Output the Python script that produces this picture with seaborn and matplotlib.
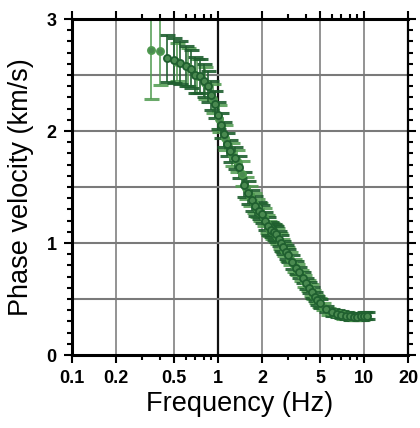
import numpy as np
import pandas as pd
import matplotlib
matplotlib.use("Agg")
import matplotlib.pyplot as plt
import seaborn as sns
from matplotlib.ticker import FixedLocator, NullFormatter, FixedFormatter

# ---- data ----
freq_dark = [0.45, 0.50, 0.55, 0.60, 0.65, 0.70, 0.75, 0.80, 0.85, 0.90, 0.95, 1.00,
             1.05, 1.10, 1.15, 1.20, 1.30, 1.40, 1.50, 1.60, 1.70, 1.80, 1.90, 2.00,
             2.10, 2.20, 2.30, 2.40, 2.50, 2.60, 2.70, 2.80, 2.90, 3.00, 3.20, 3.40,
             3.60, 3.80, 4.00, 4.20, 4.40, 4.60, 4.80, 5.00, 5.50, 6.00, 6.50, 7.00,
             7.50, 8.00, 8.50, 9.00, 9.50, 10.0, 10.5]
vel_dark = [2.65, 2.63, 2.61, 2.58, 2.55, 2.50, 2.49, 2.45, 2.40, 2.32, 2.24, 2.14,
            2.05, 1.97, 1.88, 1.82, 1.76, 1.68, 1.52, 1.45, 1.38, 1.33, 1.29, 1.26,
            1.20, 1.15, 1.12, 1.10, 1.08, 1.04, 1.00, 0.96, 0.92, 0.89, 0.83, 0.78,
            0.74, 0.69, 0.64, 0.60, 0.56, 0.52, 0.49, 0.46, 0.41, 0.38, 0.37, 0.36,
            0.35, 0.345, 0.34, 0.34, 0.345, 0.35, 0.35]
err_dark = [0.21, 0.20, 0.19, 0.18, 0.17, 0.16, 0.15, 0.15, 0.14, 0.13, 0.12, 0.12,
            0.11, 0.11, 0.10, 0.10, 0.10, 0.10, 0.11, 0.10, 0.09, 0.09, 0.08, 0.08,
            0.08, 0.08, 0.07, 0.07, 0.07, 0.07, 0.07, 0.06, 0.06, 0.06, 0.06, 0.06,
            0.05, 0.05, 0.05, 0.05, 0.05, 0.04, 0.04, 0.04, 0.03, 0.03, 0.03, 0.03,
            0.03, 0.03, 0.03, 0.03, 0.03, 0.03, 0.03]

freq_light = [0.35, 0.40, 0.52, 0.62, 0.72, 0.82, 0.92, 1.02, 1.12, 1.25, 1.35, 1.45,
              1.55, 1.65, 1.75, 1.85, 1.95, 2.05, 2.15, 2.25, 2.35, 2.45, 2.55, 2.65,
              2.75, 2.85, 2.95, 3.10, 3.30, 3.50, 3.70, 3.90, 4.10, 4.30, 4.50, 4.70,
              4.90, 5.20, 5.70, 6.20, 6.70, 7.20, 7.70, 8.20, 8.70, 9.20, 9.70, 10.2]
vel_light = [2.72, 2.71, 2.62, 2.57, 2.49, 2.43, 2.29, 2.11, 1.94, 1.79, 1.73, 1.62,
             1.49, 1.42, 1.36, 1.31, 1.28, 1.23, 1.17, 1.13, 1.11, 1.09, 1.06, 1.02,
             0.98, 0.94, 0.90, 0.86, 0.80, 0.76, 0.71, 0.66, 0.62, 0.58, 0.54, 0.50,
             0.47, 0.43, 0.39, 0.375, 0.365, 0.355, 0.35, 0.34, 0.34, 0.34, 0.345, 0.35]
err_light = [0.43, 0.30, 0.17, 0.17, 0.15, 0.14, 0.13, 0.12, 0.11, 0.10, 0.10, 0.11,
             0.10, 0.09, 0.09, 0.08, 0.08, 0.08, 0.08, 0.07, 0.07, 0.07, 0.07, 0.07,
             0.06, 0.06, 0.06, 0.06, 0.06, 0.05, 0.05, 0.05, 0.05, 0.05, 0.04, 0.04,
             0.04, 0.03, 0.03, 0.03, 0.03, 0.03, 0.03, 0.03, 0.03, 0.03, 0.03, 0.03]

x_ticks = [0.1, 0.2, 0.5, 1, 2, 5, 10, 20]
x_tick_labels = ["0.1", "0.2", "0.5", "1", "2", "5", "10", "20"]
y_ticks = [0, 1, 2, 3]
y_tick_labels = ["0", "1", "2", "3"]

dark = "#1f5f2f"
light = "#4f9a4f"

df_dark = pd.DataFrame({"f": freq_dark, "v": vel_dark, "e": err_dark})
df_light = pd.DataFrame({"f": freq_light, "v": vel_light, "e": err_light})

sns.set_style("ticks")
plt.rcParams["font.family"] = ["Liberation Sans", "DejaVu Sans"]
plt.rcParams["text.color"] = "black"
plt.rcParams["axes.labelcolor"] = "black"
plt.rcParams["xtick.color"] = "black"
plt.rcParams["ytick.color"] = "black"

fig = plt.figure(figsize=(4.2, 4.28), dpi=100)
ax = fig.add_axes([72/420, 1-355/428, 336/420, 336/428])

ax.set_xscale("log")
ax.set_xlim(0.1, 20)
ax.set_ylim(0, 3)

# grid
for gx in x_ticks[1:-1]:
    ax.axvline(gx, color="#111111" if gx == 1 else "#8a8a8a", lw=1.6 if gx == 1 else 1.3, zorder=0)
for gy in [0.5, 1, 1.5, 2, 2.5]:
    ax.axhline(gy, color="#7a7a7a", lw=1.5, zorder=0)

# error bars
ax.errorbar(df_light["f"], df_light["v"], yerr=df_light["e"], fmt="none",
            ecolor=light, elinewidth=1.3, capsize=5.4, capthick=2.2, alpha=0.85, zorder=2)
ax.errorbar(df_dark["f"], df_dark["v"], yerr=df_dark["e"], fmt="none",
            ecolor=dark, elinewidth=1.3, capsize=5.4, capthick=2.2, alpha=0.9, zorder=3)

sns.scatterplot(data=df_light, x="f", y="v", ax=ax, s=26, color="#4a8a50",
                edgecolor=light, linewidth=1.3, zorder=4, legend=False)
sns.scatterplot(data=df_dark, x="f", y="v", ax=ax, s=26, color="#4a8a50",
                edgecolor=dark, linewidth=1.3, zorder=5, legend=False)

# ticks
minor_x = [m * 10.0**d for d in (-1, 0, 1) for m in (3, 4, 6, 7, 8, 9) if m * 10.0**d < 20]
ax.xaxis.set_major_locator(FixedLocator(x_ticks))
ax.xaxis.set_major_formatter(FixedFormatter(x_tick_labels))
ax.xaxis.set_minor_locator(FixedLocator(minor_x))
ax.xaxis.set_minor_formatter(NullFormatter())
ax.yaxis.set_major_locator(FixedLocator(y_ticks))
ax.yaxis.set_major_formatter(FixedFormatter(y_tick_labels))
ax.yaxis.set_minor_locator(FixedLocator(np.arange(0, 3.01, 0.1)))

ax.tick_params(which="both", direction="out", top=True, right=True,
               color="black", labelcolor="black")
ax.tick_params(which="major", length=6, width=1.5, labelsize=13, pad=5)
ax.tick_params(which="minor", length=3.5, width=1.5)
for lab in ax.get_xticklabels() + ax.get_yticklabels():
    lab.set_fontweight("bold")

for s in ax.spines.values():
    s.set_visible(True)
    s.set_color("black")
    s.set_linewidth(2.2)
ax.spines["right"].set_linewidth(1.6)

ax.set_xlabel("Frequency (Hz)", fontsize=19.5, labelpad=3, color="black")
ax.set_ylabel("Phase velocity (km/s)", fontsize=19.5, labelpad=9, color="black")
ax.set_facecolor("white")

fig.savefig("out.png", dpi=100)
